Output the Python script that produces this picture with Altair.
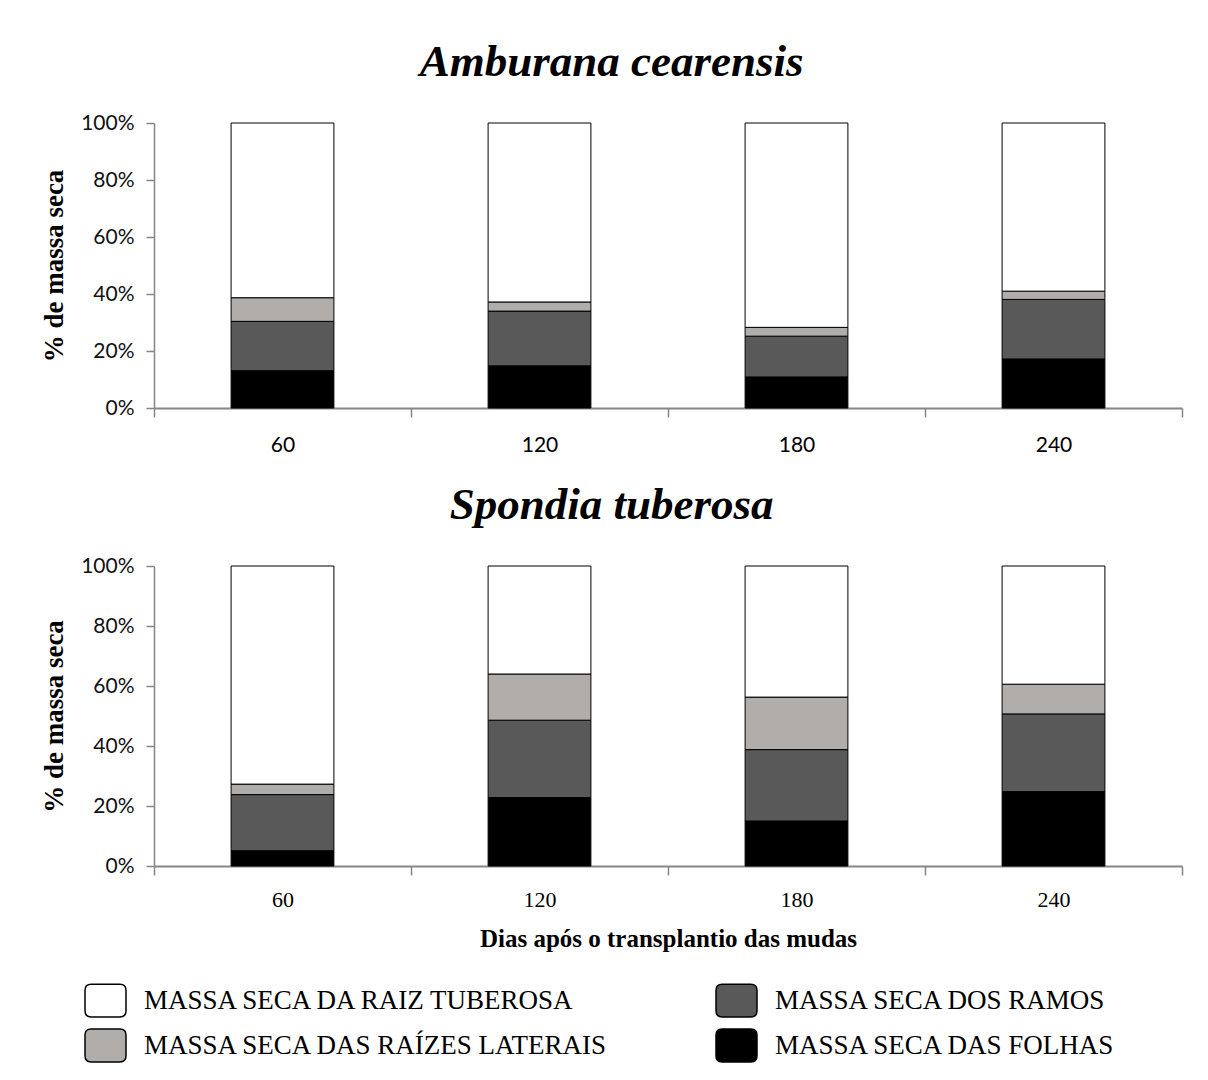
import altair as alt
import pandas as pd

dias = ["60", "120", "180", "240"]
# legend order (filled column by column): row 1 -> tuberosa | ramos, row 2 -> laterais | folhas
componentes = [
    "MASSA SECA DA RAIZ TUBEROSA",
    "MASSA SECA DAS RAÍZES LATERAIS",
    "MASSA SECA DOS RAMOS",
    "MASSA SECA DAS FOLHAS",
]
cores = ["#FFFFFF", "#B0ADAB", "#595959", "#000000"]
ordem_pilha = {"MASSA SECA DAS FOLHAS": 0, "MASSA SECA DOS RAMOS": 1,
               "MASSA SECA DAS RAÍZES LATERAIS": 2, "MASSA SECA DA RAIZ TUBEROSA": 3}

# Amburana cearensis (% de massa seca)
amb_folhas = [13.1, 14.8, 10.9, 17.2]
amb_ramos = [17.3, 19.2, 14.3, 20.9]
amb_laterais = [8.3, 3.2, 3.1, 2.9]
amb_tuberosa = [61.3, 62.8, 71.7, 59.0]

# Spondia tuberosa (% de massa seca)
spo_folhas = [5.1, 22.8, 15.0, 24.8]
spo_ramos = [18.7, 25.8, 23.8, 25.9]
spo_laterais = [3.5, 15.4, 17.5, 9.9]
spo_tuberosa = [72.7, 36.0, 43.7, 39.4]


def tabela(folhas, ramos, laterais, tuberosa):
    linhas = []
    series = {
        "MASSA SECA DAS FOLHAS": folhas,
        "MASSA SECA DOS RAMOS": ramos,
        "MASSA SECA DAS RAÍZES LATERAIS": laterais,
        "MASSA SECA DA RAIZ TUBEROSA": tuberosa,
    }
    for comp, vals in series.items():
        for d, v in zip(dias, vals):
            linhas.append({"dia": d, "componente": comp, "valor": v,
                           "ordem": ordem_pilha[comp]})
    return pd.DataFrame(linhas)


df_amb = tabela(amb_folhas, amb_ramos, amb_laterais, amb_tuberosa)
df_spo = tabela(spo_folhas, spo_ramos, spo_laterais, spo_tuberosa)

simbolo = ("M-0.7,-0.8 L0.7,-0.8 Q1,-0.8 1,-0.5 L1,0.5 Q1,0.8 0.7,0.8 "
           "L-0.7,0.8 Q-1,0.8 -1,0.5 L-1,-0.5 Q-1,-0.8 -0.7,-0.8 Z")

legenda = alt.Legend(
    orient="none", legendX=-70, legendY=856, columns=2, title=None,
    symbolType=simbolo, symbolSize=1681, symbolStrokeColor="black",
    symbolStrokeWidth=1.5, symbolOpacity=1,
    labelFont="Liberation Serif", labelFontSize=27, labelColor="black",
    labelOffset=17, columnPadding=103, rowPadding=4, labelLimit=0,
)

AXIS_GRAY = "#868686"


def painel(df, titulo, fonte_x, tam_x, pad_x, titulo_x, altura):
    return alt.Chart(df).mark_bar(
        stroke="black", strokeWidth=1, width=alt.RelativeBandSize(0.4)
    ).encode(
        x=alt.X("dia:N", sort=dias,
                scale=alt.Scale(paddingInner=0, paddingOuter=0),
                axis=alt.Axis(
                    title=titulo_x, labelAngle=0, tickBand="extent",
                    labelFont=fonte_x, labelFontSize=tam_x, labelColor="black",
                    labelPadding=pad_x, tickSize=9, tickColor=AXIS_GRAY,
                    tickWidth=1.5, domainColor=AXIS_GRAY, domainWidth=2,
                    titleFont="Liberation Serif", titleFontSize=25,
                    titleFontWeight="bold", titleColor="black", titlePadding=16,
                    grid=False)),
        y=alt.Y("valor:Q", stack="normalize",
                scale=alt.Scale(domain=[0, 1]),
                axis=alt.Axis(
                    title="% de massa seca", format=".0%",
                    values=[0, 0.2, 0.4, 0.6, 0.8, 1.0],
                    labelFont="Lato", labelFontSize=21, labelColor="#111",
                    labelPadding=12, tickSize=8, tickColor=AXIS_GRAY,
                    tickWidth=1.5, domainColor=AXIS_GRAY, domainWidth=1.5,
                    titleFont="Liberation Serif", titleFontSize=27,
                    titleFontWeight="bold", titleColor="black",
                    titlePadding=12, grid=False)),
        color=alt.Color("componente:N",
                        scale=alt.Scale(domain=componentes, range=cores),
                        legend=legenda),
        order=alt.Order("ordem:Q", sort="ascending"),
    ).properties(
        width=1028, height=altura,
        title=alt.TitleParams(
            text=titulo, font="Liberation Serif", fontSize=45,
            fontStyle="italic", fontWeight="bold", color="black",
            anchor="middle", frame="bounds", offset=27),
    )


topo = painel(df_amb, "Amburana cearensis", "Lato", 21, 17, None, 285)
baixo = painel(df_spo, "Spondia tuberosa", "Liberation Serif", 22, 14,
               "Dias após o transplantio  das mudas", 300)

chart = alt.vconcat(topo, baixo, spacing=28).properties(
    padding={"left": 32, "top": 32, "right": 5, "bottom": 2},
).configure(
    background="white", view=alt.ViewConfig(stroke=None)
)

chart.save("out.html", embed_options={"renderer": "svg", "actions": False})
